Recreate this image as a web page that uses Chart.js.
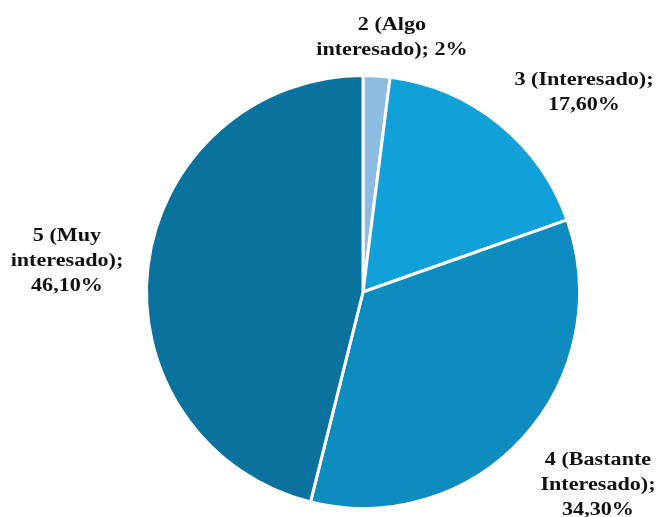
<!DOCTYPE html>
<html>
<head>
<meta charset="utf-8">
<script src="https://cdn.jsdelivr.net/npm/chart.js@4"></script>
<style>
html,body{margin:0;padding:0;background:#fff;}
#wrap{width:661px;height:517px;position:relative;}
</style>
</head>
<body>
<div id="wrap"><canvas id="c" width="661" height="517"></canvas></div>
<script>
const categories = ["2 (Algo interesado)", "3 (Interesado)", "4 (Bastante Interesado)", "5 (Muy interesado)"];
const values = [2, 17.6, 34.3, 46.1];
const valueLabels = ["2%", "17,60%", "34,30%", "46,10%"];
const labelLines = [
  ["2 (Algo", "interesado); 2%"],
  ["3 (Interesado);", "17,60%"],
  ["4 (Bastante", "Interesado);", "34,30%"],
  ["5 (Muy", "interesado);", "46,10%"]
];
const colors = ["#8CBDE0", "#12A0D8", "#0E8BBF", "#0B719D"];
// label anchor (first line centre) offsets relative to pie centre
const labelOffsets = [[29, -267], [221, -212], [235, 168], [-296, -56]];

const labelPlugin = {
  id: 'outerLabels',
  afterDatasetsDraw(chart) {
    const ctx = chart.ctx;
    const meta = chart.getDatasetMeta(0);
    const arc0 = meta.data[0];
    const cx = arc0.x, cy = arc0.y;
    const sx = 1.23;
    ctx.save();
    ctx.font = "bold 18px 'Liberation Serif', 'Times New Roman', serif";
    ctx.fillStyle = "#111";
    ctx.textAlign = "center";
    ctx.textBaseline = "middle";
    labelLines.forEach((lines, i) => {
      const [dx, dy] = labelOffsets[i];
      lines.forEach((ln, j) => {
        ctx.save();
        ctx.translate(cx + dx, cy + dy + j * 25);
        ctx.scale(sx, 1);
        ctx.fillText(ln, 0, 0);
        ctx.restore();
      });
    });
    ctx.restore();
  }
};

new Chart(document.getElementById('c'), {
  type: 'pie',
  data: {
    labels: categories,
    datasets: [{
      data: values,
      backgroundColor: colors,
      borderColor: '#ffffff',
      borderWidth: 3
    }]
  },
  options: {
    responsive: false,
    animation: false,
    layout: { padding: { top: 74, bottom: 7, left: 145, right: 80 } },
    plugins: {
      legend: { display: false },
      tooltip: { enabled: false },
      title: { display: false }
    }
  },
  plugins: [labelPlugin]
});
</script>
</body>
</html>
